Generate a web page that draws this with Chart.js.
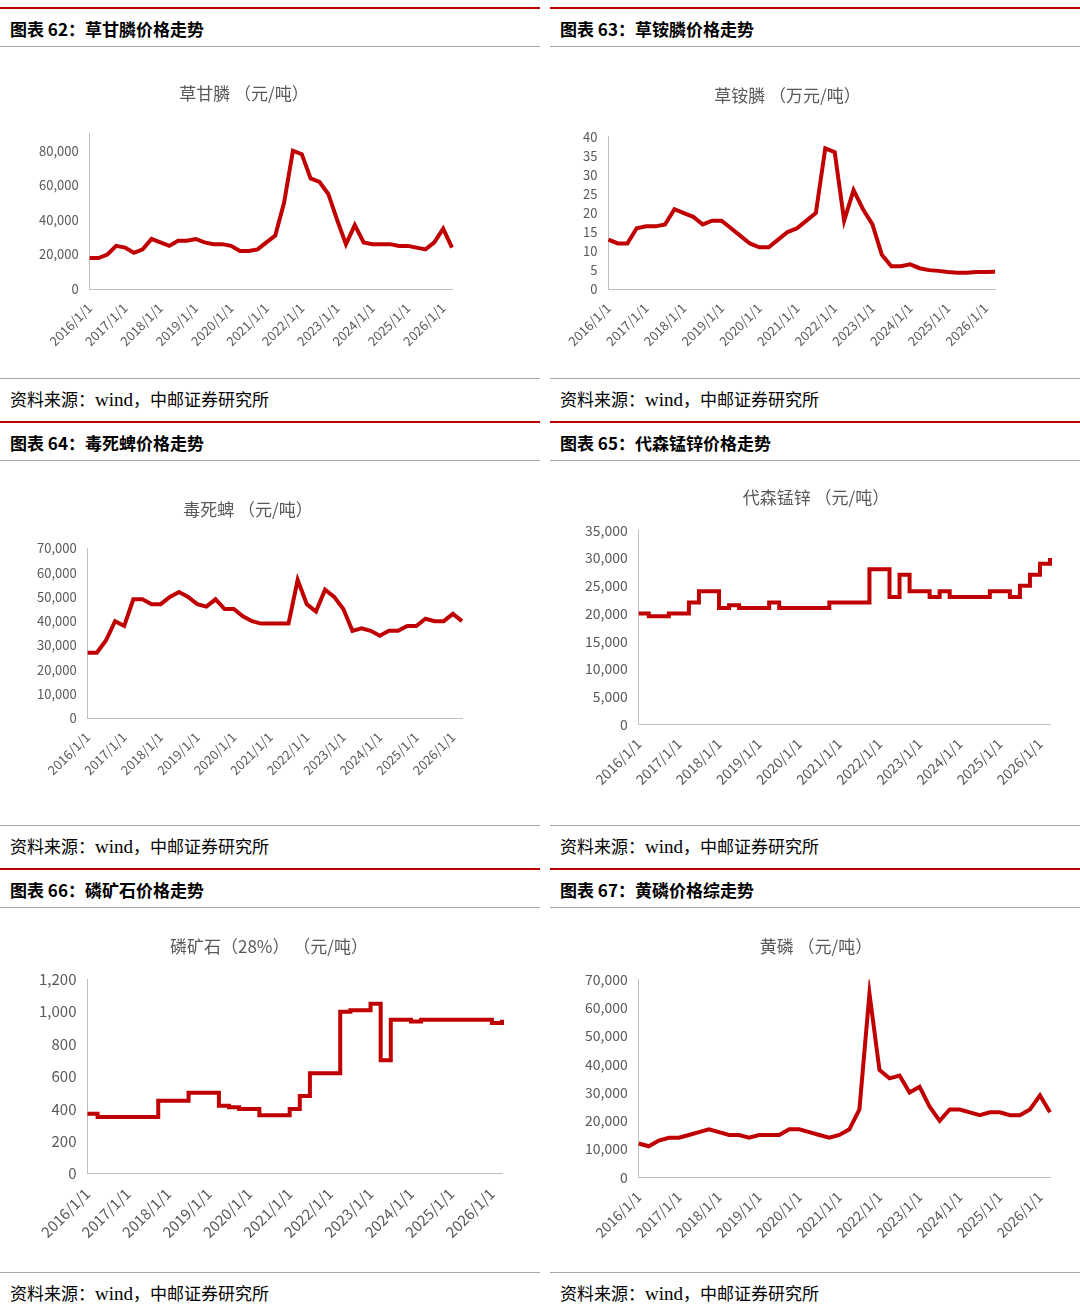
<!DOCTYPE html>
<html><head><meta charset="utf-8">
<script src="https://cdn.jsdelivr.net/npm/chart.js@4"></script>
<style>
body{margin:0;width:1080px;height:1316px;background:#fff;position:relative;overflow:hidden;font-family:"Noto Sans CJK SC",sans-serif}
.col{position:absolute;width:530px}
.head{position:absolute;left:0;right:0;height:40px;border-top:2px solid #c00000;border-bottom:1px solid #a6a6a6;font-weight:bold;font-size:17px;line-height:40px;padding-left:10px;box-sizing:border-box;color:#000}
.src{position:absolute;left:0;right:0;height:41px;border-top:1px solid #a6a6a6;font-size:17px;line-height:40px;padding-left:10px;box-sizing:border-box}
.src span{font-family:"Liberation Serif",serif;font-size:19px}
.box{position:absolute;left:0;width:530px}
</style></head><body>
<div id="root"></div>
<script>
// quarterly labels 2016/1/1 ... 2026/4/1
const quarterLabels = [];
for (let y = 2016; y <= 2026; y++) {
    for (const m of [1, 4, 7, 10]) quarterLabels.push(y + '/' + m + '/1');
}

const glyphosate = [18000,18000,20000,25000, 24000,21000,23000,29000, 27000,25000,28000,28000,
    29000,27000,26000,26000, 25000,22000,22000,23000, 27000,31000,50000,80000,
    78000,64000,62000,55000, 40000,26000,37000,27000, 26000,26000,26000,25000,
    25000,24000,23000,27000, 35000,24000];
const glufosinate = [13,12,12,16, 16.5,16.5,17,21, 20,19,17,18, 18,16,14,12, 11,11,13,15,
    16,18,20,37, 36,18,26,21, 17,9,6,6, 6.5,5.5,5,4.8, 4.5,4.3,4.3,4.5, 4.5,4.6];
const chlorpyrifos = [27000,27000,32000,40000, 38000,49000,49000,47000, 47000,50000,52000,50000,
    47000,46000,49000,45000, 45000,42000,40000,39000, 39000,39000,39000,57000,
    47000,44000,53000,50000, 45000,36000,37000,36000, 34000,36000,36000,38000,
    38000,41000,40000,40000, 43000,40000];
const mancozeb = [20000,19500,19500,20000, 20000,22000,24000,24000, 21000,21500,21000,21000,
    21000,22000,21000,21000, 21000,21000,21000,22000, 22000,22000,22000,28000,
    28000,23000,27000,24000, 24000,23000,24000,23000, 23000,23000,23000,24000,
    24000,23000,25000,27000, 29000,30000];
const phosphateRock = [370,350,350,350, 350,350,350,450, 450,450,500,500, 500,420,410,400,
    400,360,360,360, 400,480,620,620, 620,1000,1010,1010, 1050,700,950,950,
    940,950,950,950, 950,950,950,950, 930,950];
const yellowPhosphorus = [12000,11000,13000,14000, 14000,15000,16000,17000, 16000,15000,15000,14000,
    15000,15000,15000,17000, 17000,16000,15000,14000, 15000,17000,24000,65000,
    38000,35000,36000,30000, 32000,25000,20000,24000, 24000,23000,22000,23000,
    23000,22000,22000,24000, 29000,23000];

// pad: [title gap, right, left, top, bottom]
const panels = [
    {left: 0, top: 7, head: '图表 62：草甘膦价格走势', title: '草甘膦 （元/吨）', data: glyphosate, max: 90000, step: 10000, pad: [52, 88, 36, 32, 22], fs: 13, h: 331},
    {left: 550, top: 7, head: '图表 63：草铵膦价格走势', title: '草铵膦 （万元/吨）', data: glufosinate, max: 40, step: 5, pad: [55, 85, 30, 34, 22], fs: 13, h: 331},
    {left: 0, top: 421, head: '图表 64：毒死蜱价格走势', title: '毒死蜱 （元/吨）', data: chlorpyrifos, max: 70000, step: 10000, pad: [50, 78, 34, 34, 40], fs: 13, h: 364},
    {left: 550, top: 421, head: '图表 65：代森锰锌价格走势', title: '代森锰锌 （元/吨）', data: mancozeb, max: 35000, step: 5000, pad: [38, 30, 32, 22, 30], fs: 14, h: 364, stepped: true},
    {left: 0, top: 868, head: '图表 66：磷矿石价格走势', title: '磷矿石（28%） （元/吨）', data: phosphateRock, max: 1200, step: 200, pad: [38, 38, 36, 24, 24], fs: 15, h: 364, stepped: true},
    {left: 550, top: 868, head: '图表 67：黄磷价格综走势', title: '黄磷 （元/吨）', data: yellowPhosphorus, max: 70000, step: 10000, pad: [38, 30, 32, 24, 24], fs: 14, h: 364}
];

const root = document.getElementById('root');
panels.forEach((p, i) => {
    const col = document.createElement('div');
    col.className = 'col';
    col.style.left = p.left + 'px';
    col.style.top = p.top + 'px';
    col.style.width = (p.left ? 530 : 540) + 'px';
    col.innerHTML = `<div class="head" style="top:0">${p.head}</div>
        <div class="box" style="top:44px;height:${p.h - 8}px;width:${p.left ? 530 : 540}px"><canvas id="c${i}"></canvas></div>
        <div class="src" style="top:${40 + p.h}px">资料来源：<span>wind</span>，中邮证券研究所</div>`;
    root.appendChild(col);

    new Chart(document.getElementById('c' + i), {
        type: 'line',
        data: {
            labels: quarterLabels.slice(0, p.data.length),
            datasets: [{
                data: p.data,
                borderColor: '#c00000',
                borderWidth: 4,
                pointRadius: 0,
                stepped: p.stepped || false,
                tension: 0
            }]
        },
        options: {
            responsive: true,
            maintainAspectRatio: false,
            animation: false,
            layout: {padding: {left: p.pad[2], right: p.pad[1], top: p.pad[3], bottom: p.pad[4]}},
            plugins: {
                legend: {display: false},
                tooltip: {enabled: false},
                title: {
                    display: true,
                    text: p.title,
                    color: '#595959',
                    font: {family: 'Noto Sans CJK SC', size: 17, weight: 'normal'},
                    padding: {top: 0, bottom: p.pad[0] / 2 + 4}
                }
            },
            scales: {
                x: {
                    grid: {display: false},
                    border: {color: '#bfbfbf'},
                    ticks: {
                        autoSkip: false,
                        maxRotation: 45,
                        minRotation: 45,
                        color: '#595959',
                        font: {family: 'Noto Sans CJK SC', size: p.fs},
                        callback: function(v) {
                            const l = this.getLabelForValue(v);
                            return l.endsWith('/1/1') ? l : '';
                        }
                    }
                },
                y: {
                    min: 0,
                    max: p.max,
                    grid: {display: false},
                    border: {color: '#bfbfbf'},
                    ticks: {
                        stepSize: p.step,
                        color: '#595959',
                        font: {family: 'Noto Sans CJK SC', size: p.fs},
                        callback: v => v.toLocaleString('en-US')
                    }
                }
            }
        }
    });
});
</script>
</body></html>
